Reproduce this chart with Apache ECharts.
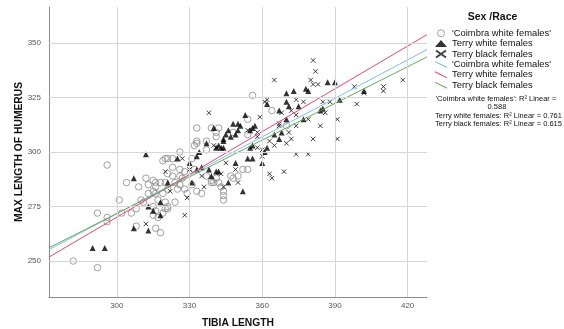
<!DOCTYPE html>
<html><head><meta charset="utf-8">
<script src="https://cdn.jsdelivr.net/npm/echarts@6/dist/echarts.min.js"></script>
<style>html,body{margin:0;padding:0;background:#fff}#c{width:564px;height:329px}</style>
</head><body><div id="c"></div>
<script>
// ---- data ----
const groupNames = ["'Coimbra white females'", "Terry white females", "Terry black females"];
const coimbra = [
[296,294],[304,286],[301,278],[292,272],[296,270],[296,268],[302,272],[306,272],[308,274],[308,266],
[310,278],[311,277],[312,288],[313,285],[309,284],[313,281],[315,287],[316,286],[318,286],[316,284],
[315,282],[316,281],[317,278],[315,275],[316,273],[315,271],[317,270],[319,272],[320,274],[319,296],
[321,297],[316,265],[318,263],[282,250],[292,247],[319,281],[333,311],[339,311],[342,311],[341,309],
[333,305],[333,304],[337,301],[326,300],[331,297],[323,297],[320,297],[326,292],[323,293],[332,292],
[328,291],[326,289],[323,289],[321,290],[327,288],[324,286],[326,285],[325,283],[328,283],[331,285],
[333,282],[335,281],[320,286],[321,283],[329,281],[337,289],[339,287],[339,286],[340,286],[341,288],
[344,282],[344,280],[344,278],[347,289],[348,288],[350,289],[352,292],[354,292],[321,275],[321,274],
[320,277],[324,277],[332,303],[356,326],[364,319],[370,312],[354,315],[354,308],[342,286],[343,284],
[348,309],[341,307],[337,305]
];
const terryWhite = [
[312,299],[307,288],[321,286],[313,275],[318,277],[318,271],[307,265],[313,264],[290,256],[295,256],[315,273],
[353,317],[340,311],[346,310],[348,313],[350,313],[351,312],[350,310],[349,308],[347,307],[345,308],[344,305],
[337,304],[342,303],[341,302],[343,302],[334,300],[325,297],[333,298],[330,295],[333,292],[335,293],[338,292],
[341,291],[339,289],[342,291],[349,295],[331,286],[346,286],[352,282],
[370,327],[373,328],[378,329],[379,328],[370,323],[371,321],[367,319],[362,322],[357,312],[355,310],[370,315],
[375,321],[377,315],[385,320],[384,319],[368,309],[367,306],[365,308],[362,302],[361,300],
[387,332],[390,332],[402,328],[392,324],[360,295],[356,297],
[356,311],[344,306],[344,302],[355,302],[356,303],[354,297]
];
const terryBlack = [
[320,291],[312,267],[338,318],[330,292],[335,289],[343,290],[345,295],[349,292],[350,286],[344,284],
[336,284],[322,282],[329,279],[328,271],[340,303],
[381,342],[382,337],[365,333],[380,333],[381,331],[383,331],[362,324],[361,323],[374,324],[377,323],
[359,316],[367,313],[368,318],[372,319],[374,317],[379,315],[384,312],[358,307],[363,305],[365,303],
[370,304],[372,306],[371,309],[374,312],[354,310],[358,302],[374,299],[379,299],[367,312],
[398,330],[402,327],[410,330],[410,328],[418,333],[399,322],[388,323],[386,318],[391,315],[391,306],
[385,323],[369,291],[363,290],[364,288],[381,306],[327,297],
[358,309],[341,302],[360,301],[360,298]
];
const fitIntercept = [95.3, 73.9, 103.5];
const fitSlope = [0.588, 0.654, 0.561];
const r2Values = ['0.588', '0.761', '0.615'];
const xTicks = [300, 330, 360, 390, 420];
const yTicks = [250, 275, 300, 325, 350];
const xRange = [272, 428];
const yRange = [233.5, 366.5];

// ---- chart ----
const FONT = 'Liberation Sans, Arial, sans-serif';
const fitColors = ['#86b8ec', '#e5466e', '#62ad5a'];
const groups = [coimbra, terryWhite, terryBlack];
const chart = echarts.init(document.getElementById('c'), null, {renderer: 'canvas'});

const circleStyle = {color: 'rgba(0,0,0,0)', borderColor: '#8a8a8a', borderWidth: 1};
const scatterStyles = [
  {symbol: 'circle', symbolSize: 6.5, itemStyle: circleStyle},
  {symbol: 'triangle', symbolSize: 6, itemStyle: {color: '#000', borderWidth: 0}},
  {symbol: 'path://M0,0L10,10M10,0L0,10', symbolSize: 4.5, itemStyle: {color: 'rgba(0,0,0,0)', borderColor: '#111', borderWidth: 1}}
];

const series = [];
// gridlines
series.push({
  type: 'scatter', name: 'grid', data: [], z: 1, silent: true,
  markLine: {
    silent: true, symbol: 'none', animation: false,
    label: {show: false},
    lineStyle: {color: '#d6d6d6', width: 1, type: 'solid'},
    emphasis: {disabled: true},
    data: xTicks.map(v => ({xAxis: v})).concat(yTicks.map(v => ({yAxis: v})))
  }
});
groups.forEach((g, i) => {
  series.push(Object.assign({
    type: 'scatter', name: groupNames[i], data: g, z: 3, silent: true
  }, scatterStyles[i]));
});
groupNames.forEach((n, i) => {
  series.push({
    type: 'line', name: 'fit ' + n, z: 4, silent: true,
    showSymbol: false, symbol: 'none',
    color: fitColors[i],
    lineStyle: {color: fitColors[i], width: 1},
    data: xRange.map(x => [x, fitIntercept[i] + fitSlope[i] * x])
  });
});

const lineIcon = 'path://M0,0L12,6L12,7.1L0,1.1Z';
const legendIcons = ['circle', 'triangle', 'path://M0,0L10,7M10,0L0,7', lineIcon, lineIcon, lineIcon];
const legendNames = groupNames.concat(groupNames.map(n => 'fit ' + n));

chart.setOption({
  animation: false,
  backgroundColor: '#fff',
  grid: {left: 49, right: 137, top: 7, bottom: 32, containLabel: false, outerBoundsMode: 'none'},
  title: {
    text: 'Sex /Race', left: 487.5, top: 7, textAlign: 'center',
    textStyle: {fontFamily: FONT, fontSize: 10.5, fontWeight: 'bold', color: '#111'}
  },
  legend: {
    orient: 'vertical', left: 430, top: 23, selectedMode: false,
    itemWidth: 12, itemHeight: 7, itemGap: 0,
    data: legendNames.map((n, i) => i === 0
      ? {name: n, icon: legendIcons[i], itemStyle: {color: 'rgba(0,0,0,0)', borderColor: '#8a8a8a', borderWidth: 1}}
      : {name: n, icon: legendIcons[i]}),
    formatter: n => n.replace(/^fit /, ''),
    textStyle: {fontFamily: FONT, fontSize: 9.4, color: '#111', lineHeight: 10.4, padding: 0}
  },
  xAxis: {
    type: 'value', min: xRange[0], max: xRange[1],
    name: 'TIBIA LENGTH', nameLocation: 'middle', nameGap: 21, nameMoveOverlap: false,
    nameTextStyle: {fontFamily: FONT, fontSize: 10.3, fontWeight: 'bold', color: '#111'},
    axisLine: {show: true, lineStyle: {color: '#8c8c8c', width: 1}},
    axisTick: {show: false},
    splitLine: {show: false},
    axisLabel: {customValues: xTicks, fontFamily: FONT, fontSize: 8, color: '#555', margin: 5}
  },
  yAxis: {
    type: 'value', min: yRange[0], max: yRange[1],
    name: 'MAX LENGTH OF HUMERUS', nameLocation: 'middle', nameGap: 25, nameRotate: 90, nameMoveOverlap: false,
    nameTextStyle: {fontFamily: FONT, fontSize: 10.3, fontWeight: 'bold', color: '#111'},
    axisLine: {show: true, lineStyle: {color: '#8c8c8c', width: 1}},
    axisTick: {show: false},
    splitLine: {show: false},
    axisLabel: {customValues: yTicks, fontFamily: FONT, fontSize: 8, color: '#555', margin: 8}
  },
  graphic: [
    {type: 'text', x: 496, y: 98.5, silent: true,
     style: {text: groupNames[0] + ': R² Linear =', textAlign: 'center', textVerticalAlign: 'middle', fontFamily: FONT, fontSize: 7.5, fill: '#111'}},
    {type: 'text', x: 497, y: 107, silent: true,
     style: {text: r2Values[0], textAlign: 'center', textVerticalAlign: 'middle', fontFamily: FONT, fontSize: 7.5, fill: '#111'}},
    {type: 'text', x: 435, y: 115.7, silent: true,
     style: {text: groupNames[1] + ': R² Linear = ' + r2Values[1], textAlign: 'left', textVerticalAlign: 'middle', fontFamily: FONT, fontSize: 7.5, fill: '#111'}},
    {type: 'text', x: 435, y: 124.3, silent: true,
     style: {text: groupNames[2] + ': R² Linear = ' + r2Values[2], textAlign: 'left', textVerticalAlign: 'middle', fontFamily: FONT, fontSize: 7.5, fill: '#111'}}
  ],
  series: series
});
</script>
</body></html>
